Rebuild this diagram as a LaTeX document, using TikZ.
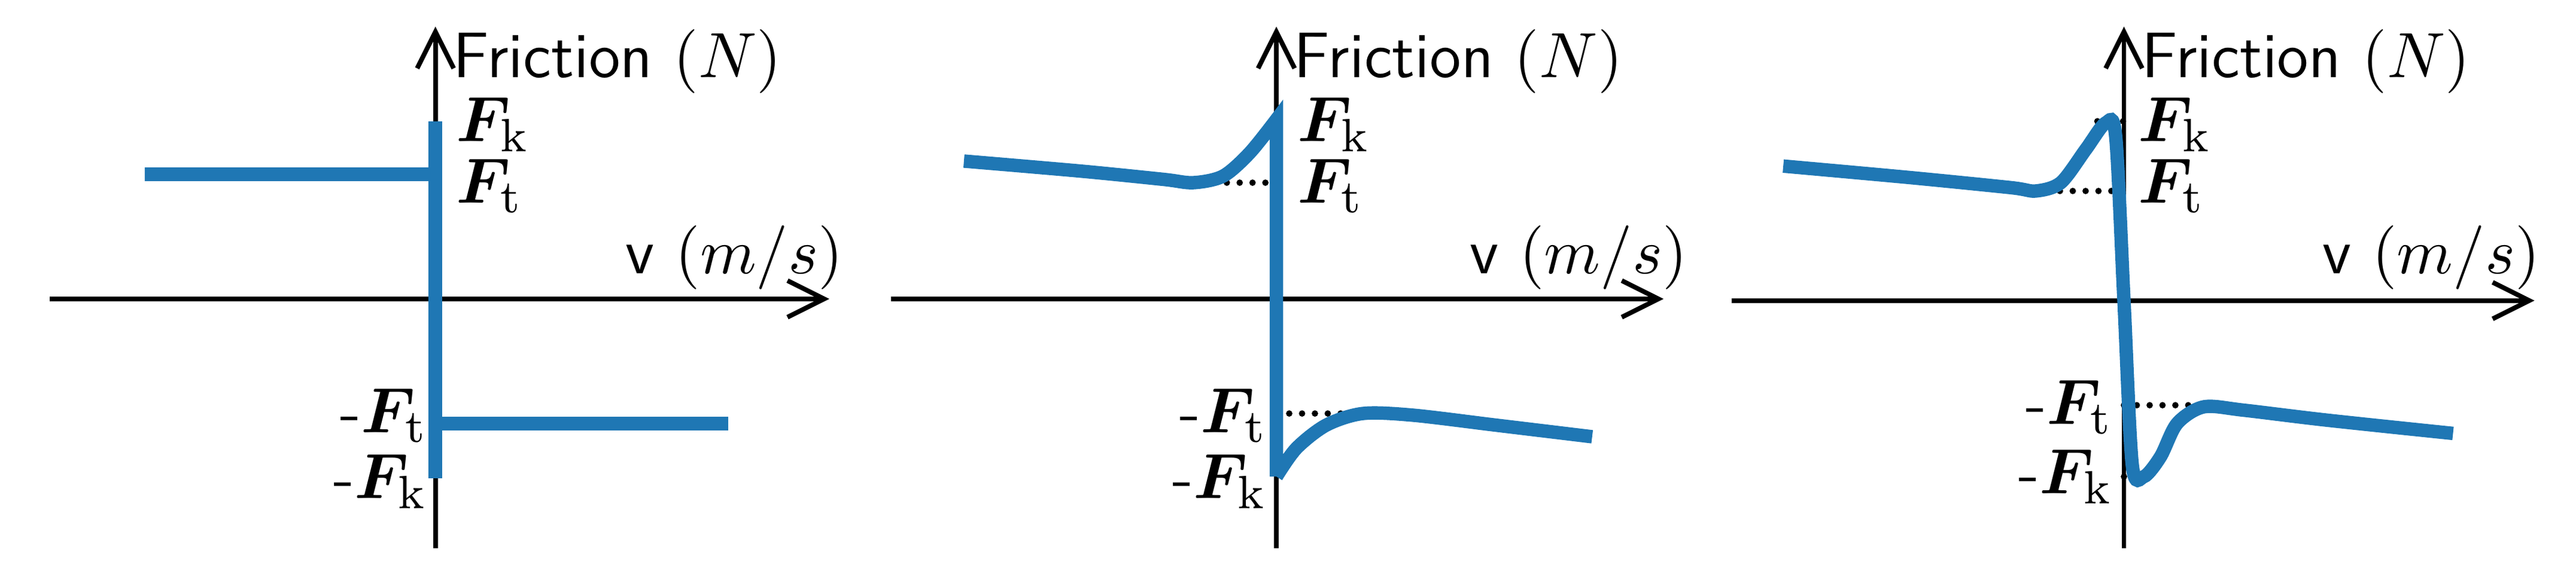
\documentclass[tikz,border=0pt]{standalone}
\usepackage{amsmath,bm}
\usetikzlibrary{arrows.meta}
\begin{document}
\begin{tikzpicture}[x=1mm,y=-1mm,
  axis/.style={line width=0.8pt,-{Straight Barb[length=2.2mm,width=2.2mm]}},
  curve/.style={line width=2.3pt,color={rgb,255:red,31;green,119;blue,180}},
  dots/.style={line width=1.1pt,line cap=round,dash pattern=on 0pt off 2.2pt},
  lbl/.style={font=\fontsize{11}{13}\selectfont,inner sep=0pt},
  ]
\useasboundingbox (0,0) rectangle (1550/10,340/10);
\newcommand{\Fk}{\bm{F}_{\mathrm{k}}}
\newcommand{\Ft}{\bm{F}_{\mathrm{t}}}
% ---------- panel 1
\coordinate (a1b) at (26.2,33); \coordinate (a1t) at (26.2,1.6);
\coordinate (x1l) at (3,18); \coordinate (x1r) at (49.9,18);
\draw[axis] (a1b) -- (a1t);
\draw[axis] (x1l) -- (x1r);
\coordinate (p1a) at (8.7,10.5); \coordinate (p1b) at (26.2,10.5);
\coordinate (p1c) at (26.2,7.3); \coordinate (p1d) at (26.2,28.8);
\coordinate (p1e) at (26.2,25.5); \coordinate (p1f) at (43.8,25.5);
\draw[curve] (p1a) -- (p1b);
\draw[curve] (p1c) -- (p1d);
\draw[curve] (p1e) -- (p1f);
\node[lbl,anchor=west] (fr1) at (27.2,3.7) {\textsf{Friction} $(N)$};
\node[lbl,anchor=east] (v1) at (50.8,15.5) {\textsf{v} $(m/s)$};
\node[lbl,anchor=west] (k1) at (27.4,7.5) {$\Fk$};
\node[lbl,anchor=west] (t1) at (27.4,11.2) {$\Ft$};
\node[lbl,anchor=east] (mt1) at (25.8,25) {$\bm{\text{-}}\Ft$};
\node[lbl,anchor=east] (mk1) at (25.8,29) {$\bm{\text{-}}\Fk$};
% ---------- panel 2
\coordinate (a2b) at (76.8,33); \coordinate (a2t) at (76.8,1.6);
\coordinate (x2l) at (53.6,18); \coordinate (x2r) at (100.1,18);
\draw[axis] (a2b) -- (a2t);
\draw[axis] (x2l) -- (x2r);
\coordinate (d2a) at (71.5,11); \coordinate (d2b) at (76.8,11);
\coordinate (d2c) at (76.8,24.9); \coordinate (d2d) at (82,24.9);
\draw[dots] (d2a) -- (d2b);
\draw[dots] (d2c) -- (d2d);
\draw[curve] plot[smooth,tension=0.5] coordinates {(58,9.7) (65,10.3) (70,10.8) (71.8,11) (73.6,10.6) (75.2,9.2) (76.8,7.2)}
  -- (76.8,28.7) plot[smooth,tension=0.5] coordinates {(76.8,28.7) (78,27) (79.8,25.6) (82,24.9) (85,25) (90,25.6) (95.8,26.3)};
\node[lbl,anchor=west] (fr2) at (77.8,3.7) {\textsf{Friction} $(N)$};
\node[lbl,anchor=east] (v2) at (101.6,15.5) {\textsf{v} $(m/s)$};
\node[lbl,anchor=west] (k2) at (78,7.5) {$\Fk$};
\node[lbl,anchor=west] (t2) at (78,11.2) {$\Ft$};
\node[lbl,anchor=east] (mt2) at (76.3,25) {$\bm{\text{-}}\Ft$};
\node[lbl,anchor=east] (mk2) at (76.3,29) {$\bm{\text{-}}\Fk$};
% ---------- panel 3
\coordinate (a3b) at (127.8,33); \coordinate (a3t) at (127.8,1.6);
\coordinate (x3l) at (104.2,18.1); \coordinate (x3r) at (152.5,18.1);
\draw[axis] (a3b) -- (a3t);
\draw[axis] (x3l) -- (x3r);
\coordinate (d3a) at (126.2,7.3); \coordinate (d3b) at (127.8,7.3);
\coordinate (d3c) at (122.4,11.5); \coordinate (d3d) at (127.8,11.5);
\coordinate (d3e) at (127.8,24.4); \coordinate (d3f) at (132.6,24.4);
\coordinate (d3g) at (127.8,28.7); \coordinate (d3h) at (129.2,28.7);
\draw[dots] (d3a) -- (d3b);
\draw[dots] (d3c) -- (d3d);
\draw[dots] (d3e) -- (d3f);
\draw[dots] (d3g) -- (d3h);
\draw[curve] plot[smooth,tension=0.5] coordinates {(107.3,10) (115,10.7) (121,11.3) (122.5,11.5) (124,11) (125.5,9) (126.7,7.4) (127.3,8.2) (127.8,18.1) (128.3,28) (129,28.7) (130,27.5) (131,25.5) (132.6,24.5) (135,24.7) (140,25.3) (147.6,26.1)};
\node[lbl,anchor=west] (fr3) at (128.8,3.7) {\textsf{Friction} $(N)$};
\node[lbl,anchor=east] (v3) at (152.9,15.5) {\textsf{v} $(m/s)$};
\node[lbl,anchor=west] (k3) at (128.6,7.5) {$\Fk$};
\node[lbl,anchor=west] (t3) at (128.6,11.2) {$\Ft$};
\node[lbl,anchor=east] (mt3) at (127.2,24.5) {$\bm{\text{-}}\Ft$};
\node[lbl,anchor=east] (mk3) at (127.2,28.7) {$\bm{\text{-}}\Fk$};
\end{tikzpicture}
\end{document}
